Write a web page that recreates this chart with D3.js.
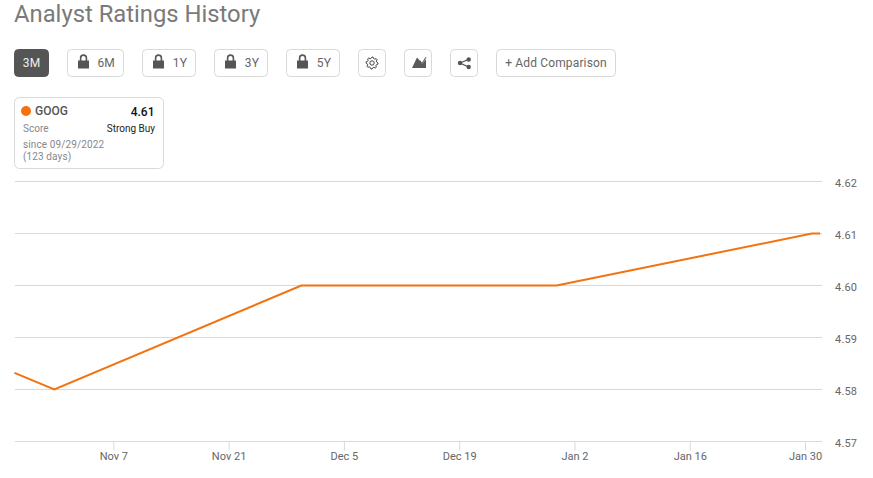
<!DOCTYPE html>
<html>
<head>
<meta charset="utf-8">
<script src="https://cdn.jsdelivr.net/npm/d3@7/dist/d3.min.js"></script>
<style>
  html, body { margin: 0; padding: 0; background: #fff; }
  svg { display: block; font-family: Roboto, sans-serif; }
</style>
</head>
<body>
<script>
var WIDTH = 873;
var HEIGHT = 478;

var scoreDates = ["2022-10-26T00:00:00Z", "2022-10-30T20:00:00Z", "2022-11-29T20:00:00Z", "2022-12-30T20:00:00Z", "2023-01-30T20:00:00Z", "2023-01-31T20:00:00Z"];
var scoreValues = [4.5832, 4.58, 4.6, 4.6, 4.61, 4.61];
var xTickDates = ["2022-11-07", "2022-11-21", "2022-12-05", "2022-12-19", "2023-01-02", "2023-01-16", "2023-01-30"];
var yTickValues = [4.57, 4.58, 4.59, 4.6, 4.61, 4.62];

var parseDate = d3.utcParse("%Y-%m-%d");
var dates = scoreDates.map(d3.isoParse);

var xScale = d3.scaleUtc()
    .domain([parseDate("2022-10-26"), parseDate("2023-02-01")])
    .range([14.5, 821.5]);

var yScale = d3.scaleLinear()
    .domain([4.57, 4.62])
    .range([441.5, 181.5]);

var svg = d3.select("body").append("svg")
    .attr("width", WIDTH)
    .attr("height", HEIGHT);

svg.append("text")
    .attr("x", 14)
    .attr("y", 22)
    .attr("font-size", 23.8)
    .attr("fill", "#7a7a7a")
    .text("Analyst Ratings History");

// toolbar
var LOCK = "M-5.5,-2.5 h11 v8 h-11 z M-3.7,-2.5 v-2.5 a3.7,3.7 0 0 1 7.4,0 v2.5 h-1.6 v-2.5 a2.1,2.1 0 0 0 -4.2,0 v2.5 z";

var buttons = [
  {x: 14, w: 35, label: "3M", active: true},
  {x: 67, w: 57, label: "6M", lock: true},
  {x: 142, w: 54, label: "1Y", lock: true},
  {x: 214, w: 54, label: "3Y", lock: true},
  {x: 286, w: 54, label: "5Y", lock: true},
  {x: 358, w: 28, icon: "gear"},
  {x: 404, w: 28, icon: "area"},
  {x: 450, w: 28, icon: "share"},
  {x: 496, w: 120, label: "+ Add Comparison"}
];

var btn = svg.append("g").selectAll("g")
    .data(buttons)
    .enter().append("g")
    .attr("transform", function (d) { return "translate(" + d.x + ",49)"; });

btn.append("rect")
    .attr("x", 0.5)
    .attr("y", 0.5)
    .attr("width", function (d) { return d.w - 1; })
    .attr("height", 27)
    .attr("rx", 4)
    .attr("fill", function (d) { return d.active ? "#555" : "#fff"; })
    .attr("stroke", function (d) { return d.active ? "#555" : "#d9d9d9"; });

btn.filter(function (d) { return d.lock; }).append("path")
    .attr("transform", "translate(16.5,14)")
    .attr("d", LOCK)
    .attr("fill", "#555");

btn.filter(function (d) { return d.label; }).append("text")
    .attr("x", function (d) { return d.lock ? d.w - 9 : d.w / 2; })
    .attr("y", 18)
    .attr("text-anchor", function (d) { return d.lock ? "end" : "middle"; })
    .attr("font-size", 12)
    .attr("letter-spacing", 0.15)
    .attr("fill", function (d) { return d.active ? "#eee" : "#666"; })
    .text(function (d) { return d.label; });

// gear outline, eight teeth
var gearAngles = d3.range(32).map(function (i) { return i * Math.PI / 16; });
var gearPath = d3.lineRadial()
    .angle(function (d) { return d; })
    .radius(function (d, i) { return i % 4 < 2 ? 6 : 4.7; })
    .curve(d3.curveLinearClosed);

var gear = btn.filter(function (d) { return d.icon == "gear"; }).append("g")
    .attr("transform", "translate(14,14)")
    .attr("fill", "none")
    .attr("stroke", "#444")
    .attr("stroke-width", 1);
gear.append("path").attr("d", gearPath(gearAngles));
gear.append("circle").attr("r", 2.2);

var area = btn.filter(function (d) { return d.icon == "area"; });
area.append("path")
    .attr("d", "M8,19 L13,8.5 L17,13 L18,15 L22,10 V19 Z")
    .attr("fill", "#5a5a5a");
area.append("path")
    .attr("d", "M16,11.5 L18,14.5 L22,8")
    .attr("fill", "none")
    .attr("stroke", "#5a5a5a");

var share = btn.filter(function (d) { return d.icon == "share"; }).append("g")
    .attr("fill", "#555");
share.append("path")
    .attr("d", "M18.5,10.5 L10,14 L18.5,18")
    .attr("fill", "none")
    .attr("stroke", "#555")
    .attr("stroke-width", 1.3);
share.append("circle").attr("cx", 18.7).attr("cy", 10.5).attr("r", 2.2);
share.append("circle").attr("cx", 10).attr("cy", 14).attr("r", 2.2);
share.append("circle").attr("cx", 18.7).attr("cy", 18).attr("r", 2.2);

// summary card
var card = svg.append("g").attr("transform", "translate(14,97)");
card.append("rect")
    .attr("x", 0.5).attr("y", 0.5)
    .attr("width", 149).attr("height", 71)
    .attr("rx", 5)
    .attr("fill", "#fff")
    .attr("stroke", "#d9d9d9");
card.append("circle").attr("cx", 12).attr("cy", 14).attr("r", 5).attr("fill", "#f57010");
card.append("text").attr("x", 21).attr("y", 18).attr("font-size", 12).attr("font-weight", 500).attr("fill", "#555").text("GOOG");
card.append("text").attr("x", 140.5).attr("y", 18.5).attr("text-anchor", "end").attr("font-size", 12).attr("font-weight", 500).attr("fill", "#111").text("4.61");
card.append("text").attr("x", 9).attr("y", 34.5).attr("font-size", 10).attr("fill", "#888").text("Score");
card.append("text").attr("x", 141).attr("y", 34.5).attr("text-anchor", "end").attr("font-size", 10).attr("fill", "#222").text("Strong Buy");
card.append("text").attr("x", 9).attr("y", 50.5).attr("font-size", 10).attr("letter-spacing", 0.12).attr("fill", "#888").text("since 09/29/2022");
card.append("text").attr("x", 9).attr("y", 62.5).attr("font-size", 10).attr("letter-spacing", 0.12).attr("fill", "#888").text("(123 days)");

// grid
svg.append("g").selectAll("line")
    .data(yTickValues)
    .enter().append("line")
    .attr("x1", 15)
    .attr("x2", 822)
    .attr("y1", function (d) { return yScale(d); })
    .attr("y2", function (d) { return yScale(d); })
    .attr("stroke", "#d9d9d9");

// axes
var xAxis = d3.axisBottom(xScale)
    .tickValues(xTickDates.map(parseDate))
    .tickFormat(d3.utcFormat("%b %-d"))
    .tickSize(9)
    .tickPadding(2);

var yAxis = d3.axisRight(yScale)
    .tickValues(yTickValues)
    .tickFormat(d3.format(".2f"))
    .tickSize(0)
    .tickPadding(13);

var xG = svg.append("g").attr("transform", "translate(0,441.5)").call(xAxis);
xG.select(".domain").remove();
xG.selectAll("line").attr("stroke", "#d9d9d9");
xG.selectAll("text").attr("font-size", 11).attr("font-family", "Roboto, sans-serif").attr("fill", "#666");

var yG = svg.append("g").attr("transform", "translate(822,1)").call(yAxis);
yG.select(".domain").remove();
yG.selectAll("text").attr("font-size", 11).attr("font-family", "Roboto, sans-serif").attr("letter-spacing", 0.2).attr("fill", "#666");

// score line
var line = d3.line()
    .x(function (d, i) { return xScale(dates[i]); })
    .y(function (d) { return yScale(d); });

svg.append("path")
    .attr("d", line(scoreValues))
    .attr("fill", "none")
    .attr("stroke", "#f2730f")
    .attr("stroke-width", 2);
</script>
</body>
</html>
